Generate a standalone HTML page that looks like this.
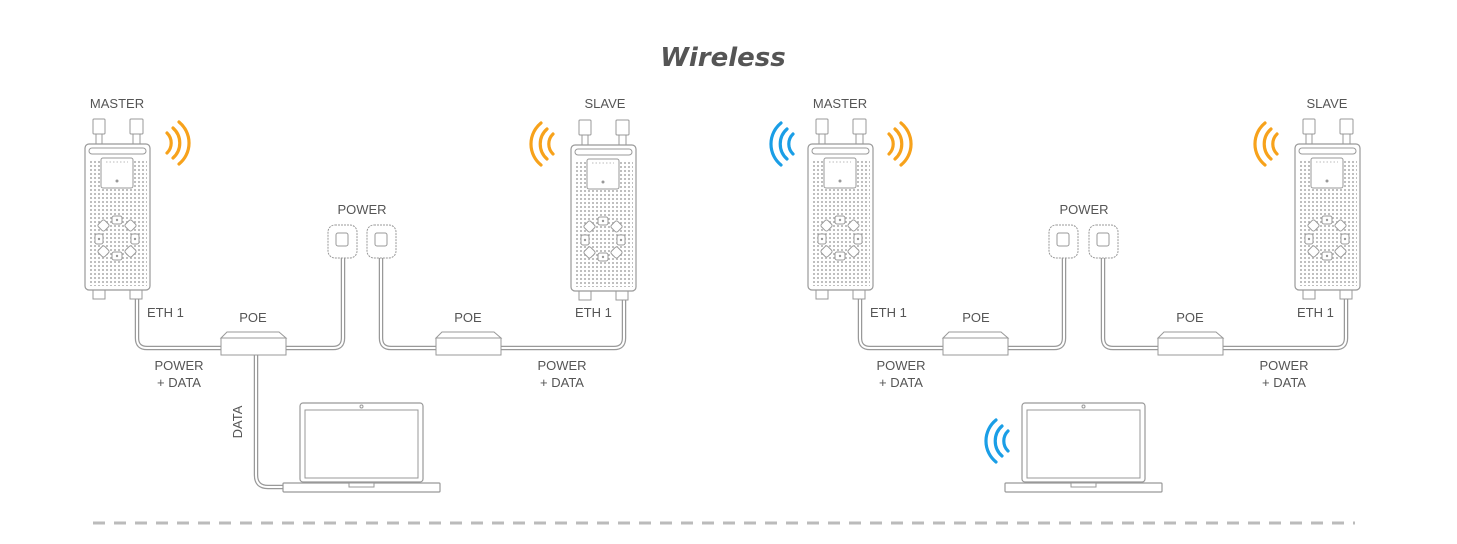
<!DOCTYPE html>
<html><head><meta charset="utf-8"><style>
html,body{margin:0;padding:0;background:#fff;width:1457px;height:544px;overflow:hidden}
svg{display:block}
.t{font-family:"Liberation Sans",sans-serif;font-size:13px;fill:#555}
</style></head><body>
<svg width="1457" height="544" viewBox="0 0 1457 544" xmlns="http://www.w3.org/2000/svg">
<defs>
<pattern id="dots" x="0" y="0" width="4" height="4" patternUnits="userSpaceOnUse">
<circle cx="2" cy="2" r="1" fill="#aaa"/>
</pattern>
<g id="dev">
 <rect x="8" y="-25" width="12" height="15" rx="1" fill="#fff" stroke="#999" stroke-width="1"/>
 <rect x="11" y="-10" width="6" height="10" fill="#fff" stroke="#999" stroke-width="1"/>
 <rect x="45" y="-25" width="13" height="15" rx="1" fill="#fff" stroke="#999" stroke-width="1"/>
 <rect x="48" y="-10" width="7" height="10" fill="#fff" stroke="#999" stroke-width="1"/>
 <rect x="8" y="146" width="12" height="9" fill="#fff" stroke="#999"/>
 <rect x="45" y="146" width="12" height="9" fill="#fff" stroke="#999"/>
 <rect x="0" y="0" width="65" height="146" rx="4" fill="#fff" stroke="#999" stroke-width="1.2"/>
 <rect x="3" y="16" width="59" height="126" fill="url(#dots)"/>
 <rect x="4" y="4" width="57" height="6" rx="3" fill="#fff" stroke="#999"/>
 <rect x="16" y="14" width="32" height="30" rx="2" fill="#fff" stroke="#999"/>
 <line x1="21" y1="18" x2="43" y2="18" stroke="#bbb" stroke-dasharray="1.5 2"/>
 <circle cx="32" cy="37" r="1.5" fill="#999"/>
 <g fill="#fff" stroke="#999" stroke-width="1">
  <rect x="27" y="72" width="10" height="8" rx="2"/>
  <rect x="27" y="108" width="10" height="8" rx="2"/>
  <rect x="10" y="90" width="8" height="10" rx="2"/>
  <rect x="46" y="90" width="8" height="10" rx="2"/>
  <rect x="14" y="77" width="9" height="9" rx="2" transform="rotate(45 18.5 81.5)"/>
  <rect x="41" y="77" width="9" height="9" rx="2" transform="rotate(45 45.5 81.5)"/>
  <rect x="14" y="103" width="9" height="9" rx="2" transform="rotate(45 18.5 107.5)"/>
  <rect x="41" y="103" width="9" height="9" rx="2" transform="rotate(45 45.5 107.5)"/>
 </g>
 <g fill="#999"><circle cx="32" cy="76" r="1.2"/><circle cx="32" cy="112" r="1.2"/><circle cx="14" cy="95" r="1.2"/><circle cx="50" cy="95" r="1.2"/></g>
</g>
<g id="poe">
 <path d="M6 0 H58 L65 6 H0 Z" fill="#fff" stroke="#999"/>
 <rect x="0" y="6" width="65" height="17" fill="#fff" stroke="#999"/>
</g>
<g id="outlet">
 <rect x="0" y="0" width="29" height="33" rx="7" fill="#fff" stroke="#999" stroke-dasharray="2 1"/>
 <rect x="8" y="8" width="12" height="13" rx="2" fill="#fff" stroke="#999"/>
</g>
<g id="laptop">
 <rect x="17" y="0" width="123" height="79" rx="3" fill="#fff" stroke="#999" stroke-width="1.2"/>
 <rect x="22" y="7" width="113" height="68" fill="#fff" stroke="#999"/>
 <circle cx="78.5" cy="3.5" r="1.5" fill="none" stroke="#999"/>
 <rect x="0" y="80" width="157" height="9" rx="1" fill="#fff" stroke="#999" stroke-width="1.2"/>
 <rect x="66" y="80" width="25" height="4" fill="#fff" stroke="#999"/>
</g>
<g id="wo" fill="none" stroke="#f7a21b" stroke-width="3.2" stroke-linecap="round">
 <path d="M0 -10 A14 14 0 0 1 0 10"/><path d="M6 -15 A20 20 0 0 1 6 15"/><path d="M12 -21 A27 27 0 0 1 12 21"/>
</g>
<g id="wol" fill="none" stroke="#f7a21b" stroke-width="3.2" stroke-linecap="round">
 <path d="M0 -10 A14 14 0 0 0 0 10"/><path d="M-6 -15 A20 20 0 0 0 -6 15"/><path d="M-12 -21 A27 27 0 0 0 -12 21"/>
</g>
<g id="wbl" fill="none" stroke="#1a9ee6" stroke-width="3.2" stroke-linecap="round">
 <path d="M0 -10 A14 14 0 0 0 0 10"/><path d="M-6 -15 A20 20 0 0 0 -6 15"/><path d="M-12 -21 A27 27 0 0 0 -12 21"/>
</g>
</defs>

<text x="723" y="66" text-anchor="middle" font-family="'DejaVu Sans',sans-serif" font-style="italic" font-weight="bold" font-size="26" fill="#555">Wireless</text>

<g fill="none" stroke-linejoin="round">
<g stroke="#999" stroke-width="4.5">
 <path d="M137 298 V338 Q137 348 147 348 H221"/>
 <path d="M286 348 H333 Q343 348 343 338 V240"/>
 <path d="M381 240 V338 Q381 348 391 348 H436"/>
 <path d="M501 348 H614 Q624 348 624 338 V298"/>
 <path d="M256 355 V475 Q256 487 268 487 H284"/>
 <path d="M860 298 V338 Q860 348 870 348 H943"/>
 <path d="M1008 348 H1054 Q1064 348 1064 338 V240"/>
 <path d="M1103 240 V338 Q1103 348 1113 348 H1158"/>
 <path d="M1223 348 H1336 Q1346 348 1346 338 V298"/>
</g>
<g stroke="#fff" stroke-width="2">
 <path d="M137 298 V338 Q137 348 147 348 H221"/>
 <path d="M286 348 H333 Q343 348 343 338 V240"/>
 <path d="M381 240 V338 Q381 348 391 348 H436"/>
 <path d="M501 348 H614 Q624 348 624 338 V298"/>
 <path d="M256 355 V475 Q256 487 268 487 H284"/>
 <path d="M860 298 V338 Q860 348 870 348 H943"/>
 <path d="M1008 348 H1054 Q1064 348 1064 338 V240"/>
 <path d="M1103 240 V338 Q1103 348 1113 348 H1158"/>
 <path d="M1223 348 H1336 Q1346 348 1346 338 V298"/>
</g>
</g>

<use href="#dev" x="85" y="144"/>
<use href="#dev" x="571" y="145"/>
<use href="#dev" x="808" y="144"/>
<use href="#dev" x="1295" y="144"/>

<use href="#poe" x="221" y="332"/>
<use href="#poe" x="436" y="332"/>
<use href="#poe" x="943" y="332"/>
<use href="#poe" x="1158" y="332"/>

<use href="#outlet" x="328" y="225"/>
<use href="#outlet" x="367" y="225"/>
<use href="#outlet" x="1049" y="225"/>
<use href="#outlet" x="1089" y="225"/>

<use href="#laptop" x="283" y="403"/>
<use href="#laptop" x="1005" y="403"/>

<use href="#wo" x="167" y="143"/>
<use href="#wol" x="553" y="144"/>
<use href="#wbl" x="793" y="144"/>
<use href="#wo" x="889" y="144"/>
<use href="#wol" x="1277" y="144"/>
<use href="#wbl" x="1008" y="441"/>

<g class="t">
<text x="117" y="108" text-anchor="middle">MASTER</text>
<text x="605" y="108" text-anchor="middle">SLAVE</text>
<text x="840" y="108" text-anchor="middle">MASTER</text>
<text x="1327" y="108" text-anchor="middle">SLAVE</text>
<text x="362" y="214" text-anchor="middle">POWER</text>
<text x="1084" y="214" text-anchor="middle">POWER</text>
<text x="253" y="322" text-anchor="middle">POE</text>
<text x="468" y="322" text-anchor="middle">POE</text>
<text x="976" y="322" text-anchor="middle">POE</text>
<text x="1190" y="322" text-anchor="middle">POE</text>
<text x="147" y="317">ETH 1</text>
<text x="575" y="317">ETH 1</text>
<text x="870" y="317">ETH 1</text>
<text x="1297" y="317">ETH 1</text>
<text x="179" y="370" text-anchor="middle">POWER</text>
<text x="179" y="387" text-anchor="middle">+ DATA</text>
<text x="562" y="370" text-anchor="middle">POWER</text>
<text x="562" y="387" text-anchor="middle">+ DATA</text>
<text x="901" y="370" text-anchor="middle">POWER</text>
<text x="901" y="387" text-anchor="middle">+ DATA</text>
<text x="1284" y="370" text-anchor="middle">POWER</text>
<text x="1284" y="387" text-anchor="middle">+ DATA</text>
<text x="242" y="422" text-anchor="middle" transform="rotate(-90 242 422)">DATA</text>
</g>

<line x1="93" y1="523" x2="1355" y2="523" stroke="#bbb" stroke-width="3" stroke-dasharray="12 9"/>
</svg>
</body></html>
